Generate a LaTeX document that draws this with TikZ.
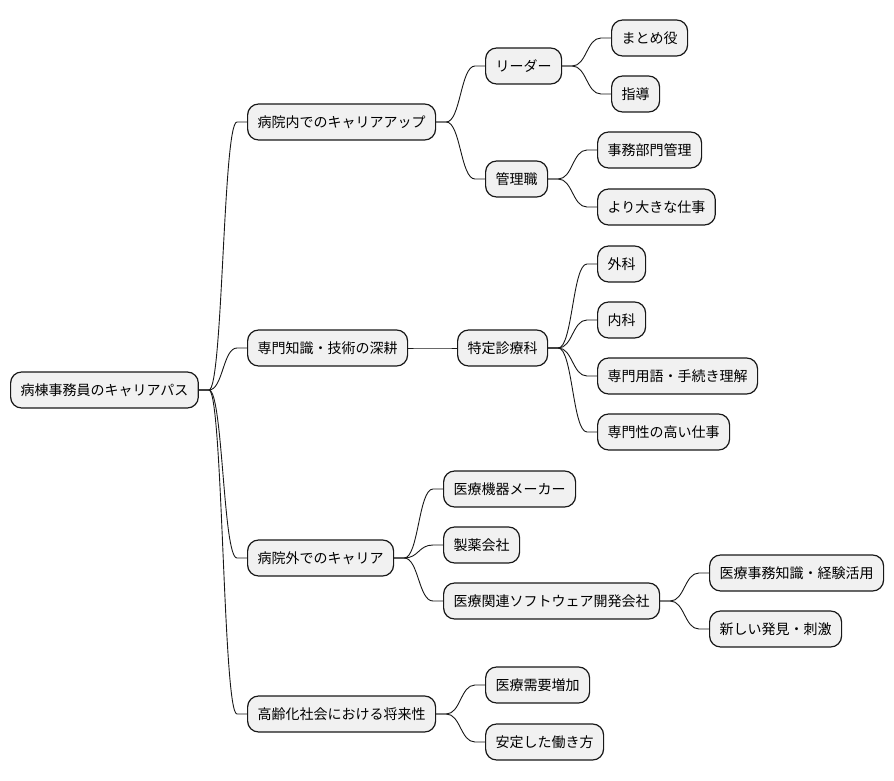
\documentclass[tikz,border=0pt]{standalone}
\usepackage{fontspec}
\setmainfont{Noto Sans CJK JP}
\usetikzlibrary{calc}
\definecolor{boxfill}{HTML}{F1F1F1}
\definecolor{ink}{HTML}{181818}
\tikzset{
  mmbox/.style={draw=ink, line width=1.2pt, fill=boxfill, rounded corners=11pt,
    inner xsep=10pt, inner ysep=0pt, minimum height=36pt, anchor=west,
    font=\fontsize{14pt}{16pt}\selectfont, text=black},
  mmlink/.style={draw=ink, line width=0.9pt}
}
\newcommand\mmconnect[2]{%
  \path (#1.east) ++(10,0) coordinate (tmpA);
  \path (#2.west) ++(-10,0) coordinate (tmpB);
  \draw[mmlink] let \p1=(tmpA), \p2=(tmpB) in
    (#1.east) -- (tmpA) .. controls ({0.5*\x1+0.5*\x2},\y1) and ({0.5*\x1+0.5*\x2},\y2) .. (tmpB) -- (#2.west);}
\begin{document}
\begin{tikzpicture}[x=1pt,y=-1pt]
\useasboundingbox (0,0) rectangle (894,781);
% root
\node[mmbox] (r) at (10,390) {病棟事務員のキャリアパス};
% level 1
\node[mmbox] (a1) at (247,122) {病院内でのキャリアアップ};
\node[mmbox] (a2) at (247,348) {専門知識・技術の深耕};
\node[mmbox] (a3) at (247,558) {病院外でのキャリア};
\node[mmbox] (a4) at (247,714) {高齢化社会における将来性};
% level 2
\node[mmbox] (b1) at (485,66) {リーダー};
\node[mmbox] (b2) at (485,179) {管理職};
\node[mmbox] (b3) at (457,348) {特定診療科};
\node[mmbox] (b4) at (443,489) {医療機器メーカー};
\node[mmbox] (b5) at (443,545) {製薬会社};
\node[mmbox] (b6) at (443,601) {医療関連ソフトウェア開発会社};
\node[mmbox] (b7) at (485,685) {医療需要増加};
\node[mmbox] (b8) at (485,742) {安定した働き方};
% level 3
\node[mmbox] (c1) at (611,38) {まとめ役};
\node[mmbox] (c2) at (611,94) {指導};
\node[mmbox] (c3) at (597,150) {事務部門管理};
\node[mmbox] (c4) at (597,207) {より大きな仕事};
\node[mmbox] (c5) at (597,264) {外科};
\node[mmbox] (c6) at (597,320) {内科};
\node[mmbox] (c7) at (597,376) {専門用語・手続き理解};
\node[mmbox] (c8) at (597,432) {専門性の高い仕事};
\node[mmbox] (c9) at (709,573) {医療事務知識・経験活用};
\node[mmbox] (c10) at (709,629) {新しい発見・刺激};
% connectors
\mmconnect{r}{a1}
\mmconnect{r}{a2}
\mmconnect{r}{a3}
\mmconnect{r}{a4}
\mmconnect{a1}{b1}
\mmconnect{a1}{b2}
\mmconnect{a2}{b3}
\mmconnect{a3}{b4}
\mmconnect{a3}{b5}
\mmconnect{a3}{b6}
\mmconnect{a4}{b7}
\mmconnect{a4}{b8}
\mmconnect{b1}{c1}
\mmconnect{b1}{c2}
\mmconnect{b2}{c3}
\mmconnect{b2}{c4}
\mmconnect{b3}{c5}
\mmconnect{b3}{c6}
\mmconnect{b3}{c7}
\mmconnect{b3}{c8}
\mmconnect{b6}{c9}
\mmconnect{b6}{c10}
\end{tikzpicture}
\end{document}
